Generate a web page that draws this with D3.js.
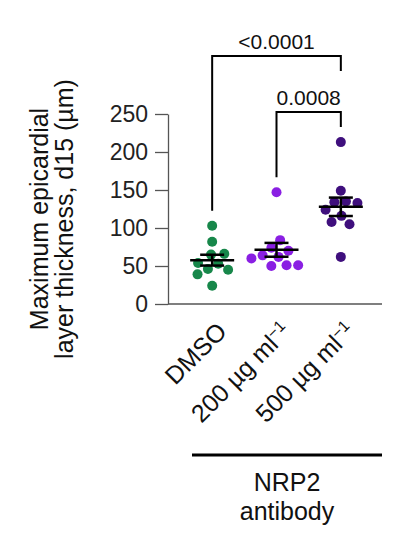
<!DOCTYPE html>
<html>
<head>
<meta charset="utf-8">
<script src="https://cdn.jsdelivr.net/npm/d3@7"></script>
<style>
  body { margin: 0; background: #fff; }
  text { font-family: "Liberation Sans", Arial, sans-serif; }
</style>
</head>
<body>
<svg id="chart"></svg>
<script>
// data (values in µm)
var groups = ["DMSO", "200", "500"];
var groupLabels = [["DMSO", ""], ["200 µg ml", "−1"], ["500 µg ml", "−1"]];
var dmsoValues = [103, 82, 66, 65, 54, 53, 46, 45, 39, 24];
var lowValues = [147, 84, 74, 70, 64, 62, 60, 51, 51, 50];
var highValues = [213, 149, 135, 134, 133, 124, 116, 108, 105, 62];
var yTicks = [0, 50, 100, 150, 200, 250];
var groupColors = ["#17874a", "#8a1fe3", "#3f0f7d"];
var comparisons = [
  { from: "200", to: "500", label: "0.0008" },
  { from: "DMSO", to: "500", label: "<0.0001" }
];

var svgWidth = 397;
var svgHeight = 544;
var plot = { left: 168, right: 382, top: 114, bottom: 304 };
var r = 5;

var svg = d3.select("#chart")
  .attr("width", svgWidth)
  .attr("height", svgHeight);

var y = d3.scaleLinear()
  .domain([0, 250])
  .range([plot.bottom, plot.top]);

var x = d3.scaleBand()
  .domain(groups)
  .range([plot.left + 12, plot.right - 9]);

var cx = g => x(g) + x.bandwidth() / 2;

var allValues = [dmsoValues, lowValues, highValues];

// y axis
var leftAxis = d3.axisLeft(y)
  .tickValues(yTicks)
  .tickSize(13)
  .tickSizeOuter(0)
  .tickPadding(7);

var yAxis = svg.append("g")
  .attr("transform", `translate(${plot.left}, 0)`)
  .call(leftAxis);
yAxis.select(".domain").attr("stroke", "#555").attr("stroke-width", 1.3);
yAxis.selectAll(".tick line").attr("stroke", "#555").attr("stroke-width", 1.3);
yAxis.selectAll(".tick text")
  .attr("fill", "#222")
  .style("font-size", "23px");

// x axis line
svg.append("line")
  .attr("x1", plot.left).attr("x2", plot.right)
  .attr("y1", plot.bottom).attr("y2", plot.bottom)
  .attr("stroke", "#555").attr("stroke-width", 1.3);

// y axis title
var yTitle = svg.append("text")
  .attr("transform", `translate(48, 219) rotate(-90)`)
  .attr("text-anchor", "middle")
  .attr("fill", "#111")
  .style("font-size", "25px");
yTitle.append("tspan").attr("x", 0).attr("y", 0).text("Maximum epicardial");
yTitle.append("tspan").attr("x", 0).attr("y", 25).text("layer thickness, d15 (µm)");

// beeswarm layout with a force simulation, y fixed by value
var nodes = [];
groups.forEach(function (g, i) {
  allValues[i].forEach(function (v) {
    nodes.push({ group: g, gi: i, value: v, x: cx(g), y: y(v), fy: y(v) });
  });
});

var sim = d3.forceSimulation(nodes)
  .force("x", d3.forceX(d => cx(d.group)).strength(0.08))
  .force("collide", d3.forceCollide(r + 0.8))
  .stop();
for (var i = 0; i < 300; i++) sim.tick();

svg.append("g")
  .selectAll("circle")
  .data(nodes)
  .enter()
  .append("circle")
  .attr("cx", d => d.x)
  .attr("cy", d => d.y)
  .attr("r", r)
  .attr("fill", d => groupColors[d.gi]);

// mean ± SEM
var stats = groups.map(function (g, i) {
  var vals = allValues[i];
  var m = d3.mean(vals);
  var sem = d3.deviation(vals) / Math.sqrt(vals.length);
  return { group: g, mean: m, sem: sem };
});

var errGroup = svg.append("g")
  .attr("stroke", "#000")
  .attr("stroke-width", 2.5)
  .attr("fill", "none");

stats.forEach(function (s) {
  var c = cx(s.group);
  errGroup.append("line")
    .attr("x1", c - 22).attr("x2", c + 22)
    .attr("y1", y(s.mean)).attr("y2", y(s.mean));
  errGroup.append("line")
    .attr("x1", c).attr("x2", c)
    .attr("y1", y(s.mean - s.sem)).attr("y2", y(s.mean + s.sem));
  [s.mean - s.sem, s.mean + s.sem].forEach(function (v) {
    errGroup.append("line")
      .attr("x1", c - 12).attr("x2", c + 12)
      .attr("y1", y(v)).attr("y2", y(v));
  });
});

// significance brackets, inner one first
var ceiling = {};
groups.forEach(function (g, i) {
  ceiling[g] = y(d3.max(allValues[i])) - r;
});

comparisons.forEach(function (c) {
  var x1 = cx(c.from), x2 = cx(c.to);
  var leg1 = ceiling[c.from] - 10;
  var leg2 = ceiling[c.to] - 10;
  var top = Math.min(leg1, leg2) - 15;
  svg.append("path")
    .attr("d", `M${x1},${leg1}V${top}H${x2}V${leg2}`)
    .attr("fill", "none")
    .attr("stroke", "#000")
    .attr("stroke-width", 2);
  svg.append("text")
    .attr("x", (x1 + x2) / 2)
    .attr("y", top - 7)
    .attr("text-anchor", "middle")
    .attr("fill", "#111")
    .style("font-size", "21px")
    .text(c.label);
  var i1 = groups.indexOf(c.from), i2 = groups.indexOf(c.to);
  for (var k = i1; k <= i2; k++) ceiling[groups[k]] = top - 31;
});

// rotated category labels
groups.forEach(function (g, i) {
  var t = svg.append("text")
    .attr("transform", `translate(${cx(g) + 16}, 333) rotate(-45)`)
    .attr("text-anchor", "end")
    .attr("fill", "#111")
    .style("font-size", "25px");
  t.append("tspan").text(groupLabels[i][0]);
  if (groupLabels[i][1]) {
    t.append("tspan")
      .attr("dy", "-0.55em")
      .style("font-size", "16px")
      .text(groupLabels[i][1]);
  }
});

// NRP2 antibody bar
svg.append("line")
  .attr("x1", 192).attr("x2", plot.right)
  .attr("y1", 455).attr("y2", 455)
  .attr("stroke", "#000")
  .attr("stroke-width", 3);

var nrp = svg.append("text")
  .attr("text-anchor", "middle")
  .attr("fill", "#111")
  .style("font-size", "25px");
nrp.append("tspan").attr("x", 287).attr("y", 491).text("NRP2");
nrp.append("tspan").attr("x", 287).attr("y", 520).text("antibody");
</script>
</body>
</html>
